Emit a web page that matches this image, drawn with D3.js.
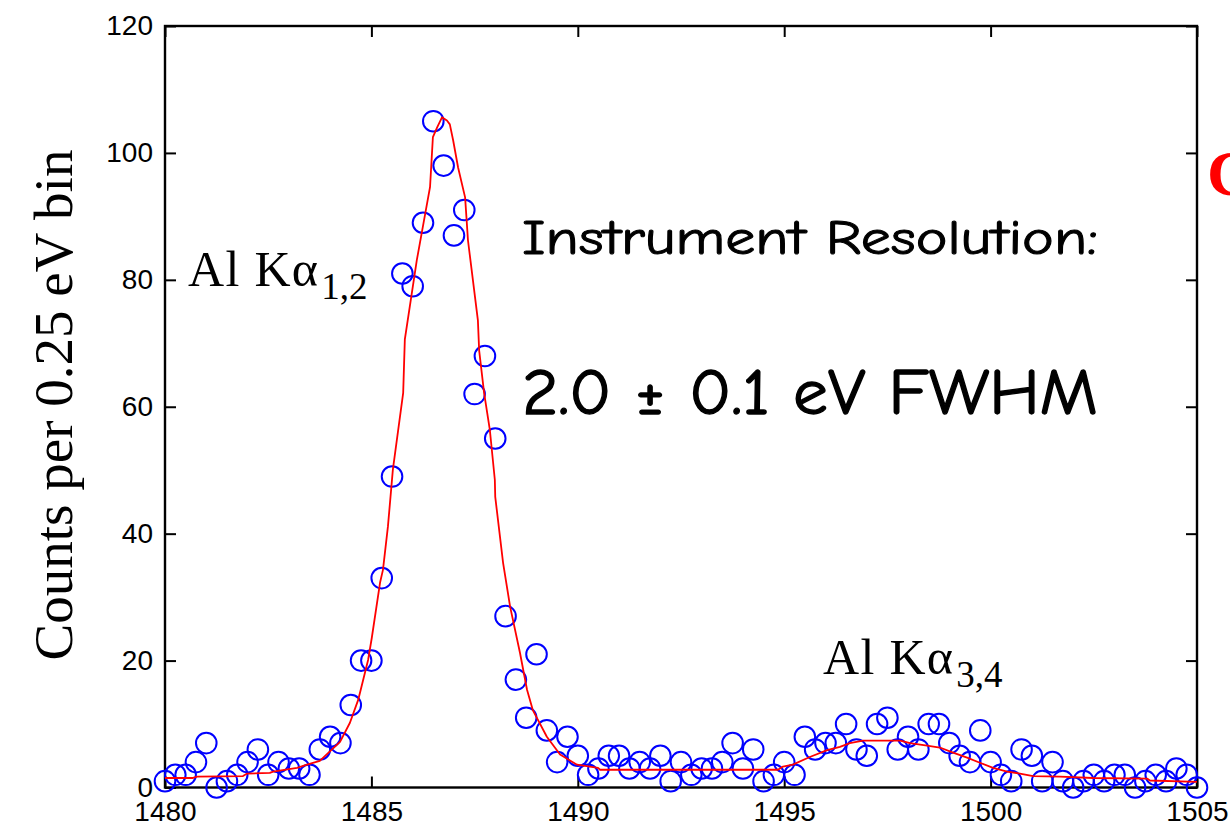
<!DOCTYPE html>
<html>
<head>
<meta charset="utf-8">
<script src="https://cdn.jsdelivr.net/npm/d3@7/dist/d3.min.js"></script>
<style>
  html, body { margin: 0; padding: 0; background: #fff; }
  svg { display: block; }
</style>
</head>
<body>
<svg id="chart" width="1230" height="827"></svg>
<script>
// ---- Data ----
const energy = [
  1480.00,1480.25,1480.50,1480.75,1481.00,1481.25,1481.50,1481.75,1482.00,1482.25,
  1482.50,1482.75,1483.00,1483.25,1483.50,1483.75,1484.00,1484.25,1484.50,1484.75,
  1485.00,1485.25,1485.50,1485.75,1486.00,1486.25,1486.50,1486.75,1487.00,1487.25,
  1487.50,1487.75,1488.00,1488.25,1488.50,1488.75,1489.00,1489.25,1489.50,1489.75,
  1490.00,1490.25,1490.50,1490.75,1491.00,1491.25,1491.50,1491.75,1492.00,1492.25,
  1492.50,1492.75,1493.00,1493.25,1493.50,1493.75,1494.00,1494.25,1494.50,1494.75,
  1495.00,1495.25,1495.50,1495.75,1496.00,1496.25,1496.50,1496.75,1497.00,1497.25,
  1497.50,1497.75,1498.00,1498.25,1498.50,1498.75,1499.00,1499.25,1499.50,1499.75,
  1500.00,1500.25,1500.50,1500.75,1501.00,1501.25,1501.50,1501.75,1502.00,1502.25,
  1502.50,1502.75,1503.00,1503.25,1503.50,1503.75,1504.00,1504.25,1504.50,1504.75,
  1505.00
];
const counts = [
  1,2,2,4,7,0,1,2,4,6,
  2,4,3,3,2,6,8,7,13,20,
  20,33,49,81,79,89,105,98,87,91,
  62,68,55,27,17,11,21,9,4,8,
  5,2,3,5,5,3,4,3,5,1,
  4,2,3,3,4,7,3,6,1,2,
  4,2,8,6,7,7,10,6,5,10,
  11,6,8,6,10,10,7,5,4,9,
  4,2,1,6,5,1,4,1,0,1,
  2,1,2,2,0,1,2,1,3,2,
  0
];
// fitted curve (red line)
const fitEnergy = [
  1480.00,1480.68,1480.78,1481.89,1481.99,1482.54,1482.62,1483.20,1483.44,1483.75,
  1484.24,1484.48,1484.68,1484.92,1485.01,1485.21,1485.28,1485.40,1485.52,1485.77,
  1485.78,1485.81,1486.10,1486.42,1486.49,1486.59,1486.71,1486.83,1486.90,1486.98,
  1487.10,1487.27,1487.34,1487.58,1487.61,1487.73,1487.87,1487.99,1488.00,1488.19,
  1488.36,1488.60,1488.77,1488.91,1489.25,1489.57,1489.98,1490.49,1490.54,1494.85,
  1494.97,1495.21,1495.62,1496.04,1496.35,1496.59,1496.91,1497.81,1498.05,1498.46,
  1498.77,1499.09,1499.43,1499.74,1500.06,1500.40,1500.71,1501.03,1501.68,1502.48,
  1503.79,1503.86,1505.00
];
const fitCounts = [
  1.5,1.5,1.7,1.8,2.2,2.3,2.5,3.1,3.6,4.2,
  7.2,10.2,13.8,20.1,23.6,32.3,34.3,41.1,50.1,62.2,
  64.3,70.6,83.1,94.6,102.5,104.0,105.6,105.1,104.5,102.0,
  97.7,93.0,86.2,73.6,68.9,62.2,56.3,48.5,45.8,35.4,
  28.5,21.2,15.4,12.2,8.0,5.2,3.6,3.1,2.8,2.8,
  3.3,3.6,4.8,5.9,6.4,7.0,7.4,7.4,7.0,6.6,
  6.3,5.5,4.7,3.9,3.1,2.5,2.2,1.8,1.7,1.5,
  1.4,1.1,0.9
];
const xTicks = [1480, 1485, 1490, 1495, 1500, 1505];
const yTicks = [0, 20, 40, 60, 80, 100, 120];
const yLabel = "Counts per 0.25 eV bin";

// ---- Layout ----
const svg = d3.select("#chart");
const L = 165, R = 1197, T = 26, B = 787.5;
const x = d3.scaleLinear().domain([1480, 1505]).range([L, R]);
const y = d3.scaleLinear().domain([0, 120]).range([B, T]);

const tickFont = "'Liberation Sans', Arial, Helvetica, sans-serif";

function styleAxis(g) {
  g.select(".domain").remove();
  g.selectAll(".tick line").attr("stroke", "#000").attr("stroke-width", 2);
  g.selectAll(".tick text").attr("fill", "#000")
    .style("font-family", tickFont).style("font-size", "28px");
}

svg.append("g").attr("transform", `translate(0,${B})`)
  .call(d3.axisBottom(x).tickValues(xTicks).tickFormat(d3.format("d"))
    .tickSizeInner(-11).tickSizeOuter(0).tickPadding(14))
  .call(styleAxis);
svg.append("g").attr("transform", `translate(0,${T})`)
  .call(d3.axisTop(x).tickValues(xTicks).tickFormat("")
    .tickSizeInner(-11).tickSizeOuter(0))
  .call(styleAxis);
svg.append("g").attr("transform", `translate(${L},0)`)
  .call(d3.axisLeft(y).tickValues(yTicks).tickFormat(d3.format("d"))
    .tickSizeInner(-11).tickSizeOuter(0).tickPadding(12))
  .call(styleAxis);
svg.append("g").attr("transform", `translate(${R},0)`)
  .call(d3.axisRight(y).tickValues(yTicks).tickFormat("")
    .tickSizeInner(-11).tickSizeOuter(0))
  .call(styleAxis);

// frame
svg.append("rect").attr("x", L).attr("y", T)
  .attr("width", R - L).attr("height", B - T)
  .attr("fill", "none").attr("stroke", "#000").attr("stroke-width", 2.4);

// data circles
svg.append("g").selectAll("circle")
  .data(energy.map((e, i) => [e, counts[i]]))
  .join("circle")
  .attr("cx", d => x(d[0]))
  .attr("cy", d => y(d[1]))
  .attr("r", 10.3)
  .attr("fill", "none")
  .attr("stroke", "#0000ff")
  .attr("stroke-width", 2);

// fit line
const line = d3.line().x(d => x(d[0])).y(d => y(d[1]));
svg.append("path")
  .datum(fitEnergy.map((e, i) => [e, fitCounts[i]]))
  .attr("d", line)
  .attr("fill", "none")
  .attr("stroke", "#ff0000")
  .attr("stroke-width", 1.8)
  .attr("stroke-linejoin", "round");

// y label
const serif = "'Liberation Serif', 'Times New Roman', Times, serif";
svg.append("text")
  .attr("transform", "translate(72,405) rotate(-90)")
  .attr("text-anchor", "middle")
  .style("font-family", serif).style("font-size", "55px")
  .attr("fill", "#000")
  .text(yLabel);

// peak labels
function peakLabel(px, py, sub) {
  const t = svg.append("text").attr("x", px).attr("y", py)
    .style("font-family", serif).style("font-size", "50px").attr("fill", "#000");
  t.append("tspan").attr("textLength", 130).attr("lengthAdjust", "spacing").text("Al K\u03B1");
  t.append("tspan").attr("dx", 2).attr("dy", 13).style("font-size", "37px").text(sub);
}
peakLabel(188, 286, "1,2");
peakLabel(823, 674, "3,4");

// resolution annotation
const comic = "'Comic Sans MS', 'Comic Neue', 'Open Sans', sans-serif";
svg.append("text").attr("x", 522).attr("y", 254)
  .attr("textLength", 576).attr("lengthAdjust", "spacingAndGlyphs")
  .style("font-family", comic).style("font-size", "49px")
  .attr("fill", "#000").attr("stroke", "#000").attr("stroke-width", 1)
  .text("Instrument Resolution:");
svg.append("text").attr("x", 522).attr("y", 414)
  .attr("textLength", 576).attr("lengthAdjust", "spacingAndGlyphs")
  .style("font-family", comic).style("font-size", "64px")
  .attr("fill", "#000").attr("stroke", "#000").attr("stroke-width", 1.3)
  .text("2.0 \u00B1 0.1 eV FWHM");

// red partial letter at right edge
svg.append("text").attr("x", 1207).attr("y", 195)
  .style("font-family", serif).style("font-size", "64px")
  .style("font-weight", "bold").attr("fill", "#ff0000")
  .text("C");
</script>
</body>
</html>
